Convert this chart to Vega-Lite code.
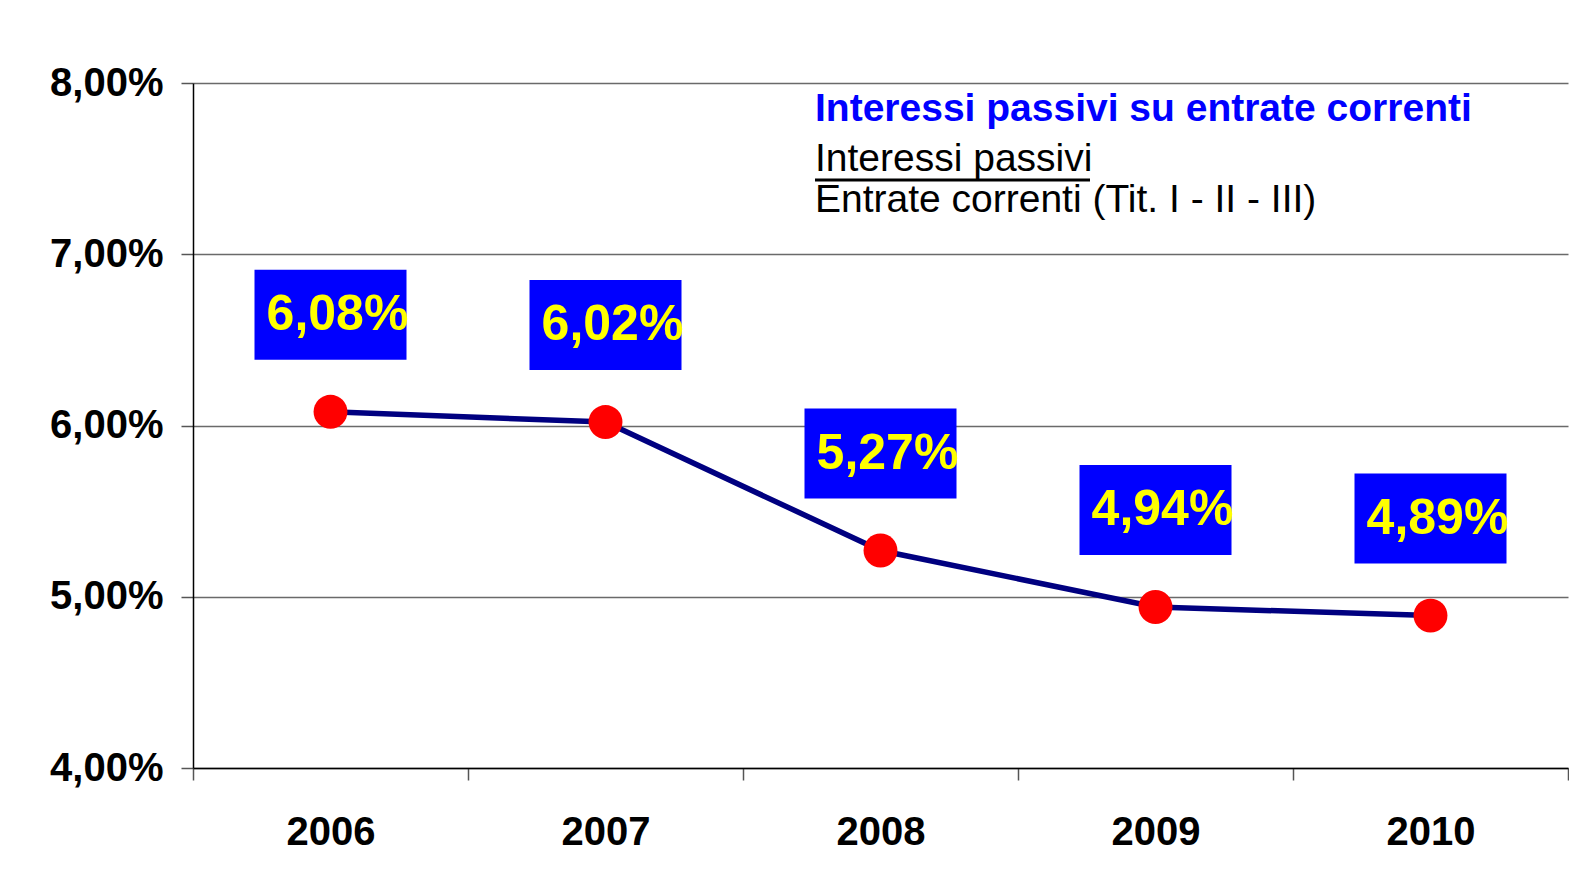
{
  "$schema": "https://vega.github.io/schema/vega-lite/v6.json",
  "width": 1375,
  "height": 685,
  "autosize": "none",
  "padding": {"left": 193, "top": 83, "right": 1, "bottom": 117},
  "background": "white",
  "data": {
    "values": [
      {"year": "2006", "rate": 6.08, "label": "6,08%"},
      {"year": "2007", "rate": 6.02, "label": "6,02%"},
      {"year": "2008", "rate": 5.27, "label": "5,27%"},
      {"year": "2009", "rate": 4.94, "label": "4,94%"},
      {"year": "2010", "rate": 4.89, "label": "4,89%"}
    ]
  },
  "title": {
    "text": "Interessi passivi su entrate correnti",
    "subtitle": ["Interessi passivi", "Entrate correnti (Tit. I - II - III)"],
    "anchor": "start",
    "frame": "group",
    "orient": "top",
    "offset": 0,
    "dx": 622,
    "dy": 157,
    "font": "Liberation Sans",
    "fontSize": 39,
    "fontWeight": "bold",
    "color": "#0000ff",
    "subtitleFont": "Liberation Sans",
    "subtitleFontSize": 39,
    "subtitleColor": "#000000",
    "subtitleLineHeight": 41,
    "subtitlePadding": 11
  },
  "encoding": {
    "x": {
      "field": "year",
      "type": "ordinal",
      "scale": {"type": "band", "paddingInner": 0, "paddingOuter": 0},
      "axis": {
        "title": null,
        "labelAngle": 0,
        "labelFont": "Liberation Sans",
        "labelFontSize": 40,
        "labelFontWeight": "bold",
        "labelColor": "#000000",
        "labelPadding": 32,
        "tickSize": 12,
        "tickBand": "extent",
        "tickColor": "#555555",
        "tickWidth": 1.5,
        "domainColor": "#000000",
        "domainWidth": 1.5,
        "grid": false
      }
    },
    "y": {
      "field": "rate",
      "type": "quantitative",
      "scale": {"domain": [4, 8], "nice": false, "zero": false},
      "axis": {
        "title": null,
        "values": [4, 5, 6, 7, 8],
        "labelExpr": "replace(format(datum.value, '.2f'), '.', ',') + '%'",
        "labelFont": "Liberation Sans",
        "labelFontSize": 40,
        "labelFontWeight": "bold",
        "labelColor": "#000000",
        "labelPadding": 18,
        "tickSize": 12,
        "tickColor": "#555555",
        "tickWidth": 1.5,
        "domainColor": "#000000",
        "domainWidth": 1.5,
        "grid": true,
        "gridColor": "#6a6a6a",
        "gridWidth": 1.5
      }
    }
  },
  "layer": [
    {"mark": {"type": "line", "color": "#000080", "strokeWidth": 5.5}},
    {"mark": {"type": "circle", "color": "#ff0000", "size": 1150, "opacity": 1}},
    {"mark": {"type": "rect", "width": 152, "height": 90, "yOffset": -97, "color": "#0000ff"}},
    {
      "mark": {"type": "text", "yOffset": -97, "dx": 7, "align": "center", "baseline": "middle", "font": "Liberation Sans", "fontSize": 50, "fontWeight": "bold", "color": "#ffff00"},
      "encoding": {"text": {"field": "label"}}
    },
    {
      "data": {"values": [{"from": "2008", "to": "2009", "at": 7.433}]},
      "mark": {"type": "rule", "color": "#000000", "strokeWidth": 3, "xOffset": -65.5, "x2Offset": -65.5},
      "encoding": {
        "x": {"field": "from", "type": "ordinal"},
        "x2": {"field": "to"},
        "y": {"field": "at", "type": "quantitative"}
      }
    }
  ],
  "config": {"view": {"stroke": null}}
}
